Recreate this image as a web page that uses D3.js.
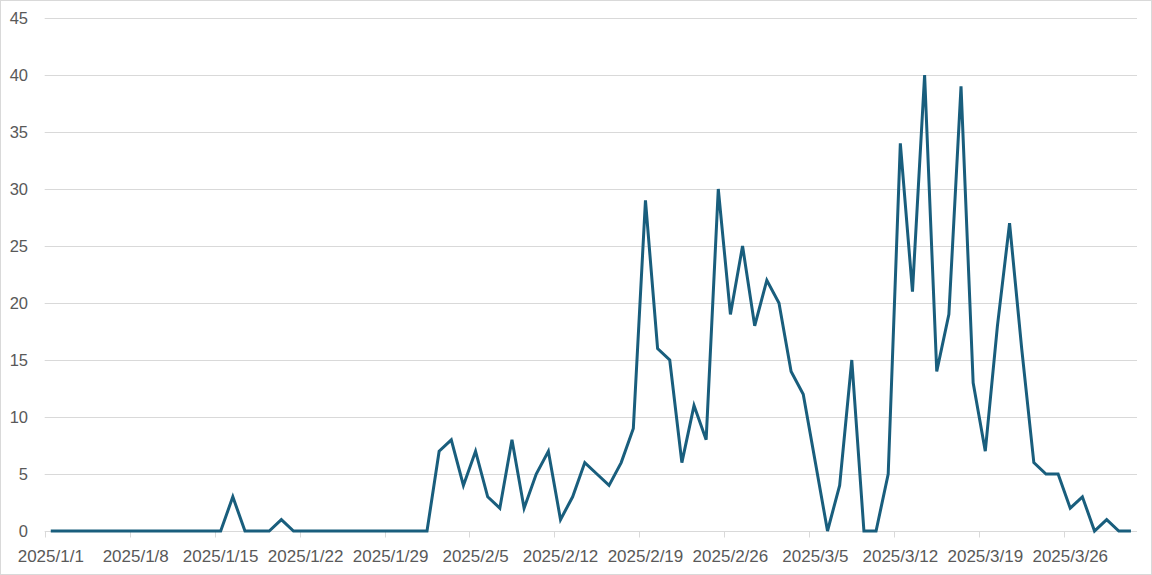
<!DOCTYPE html>
<html lang="en">
<head>
<meta charset="utf-8">
<title>Daily counts</title>
<script src="https://cdn.jsdelivr.net/npm/d3@7"></script>
<style>
  body { margin: 0; background: #fff; }
  text { font-family: "Liberation Sans", Arial, sans-serif; fill: #595959; }
</style>
</head>
<body>
<svg id="chart" width="1152" height="575"></svg>
<script>
// one value per day, 2025/1/1 .. 2025/3/31
var dayCount = 90
var counts = [
  0, 0, 0, 0, 0, 0, 0, 0, 0, 0, 0, 0, 0, 0, 0, 3, 0, 0, 0, 1,
  0, 0, 0, 0, 0, 0, 0, 0, 0, 0, 0, 0, 7, 8, 4, 7, 3, 2, 8, 2,
  5, 7, 1, 3, 6, 5, 4, 6, 9, 29, 16, 15, 6, 11, 8, 30, 19, 25, 18, 22,
  20, 14, 12, 6, 0, 4, 15, 0, 0, 5, 34, 21, 40, 14, 19, 39, 13, 7, 18, 27,
  16, 6, 5, 5, 2, 3, 0, 1, 0, 0
]
var yTicks = [0, 5, 10, 15, 20, 25, 30, 35, 40, 45]
var tickEvery = 7

var fmt = d3.timeFormat("%Y/%-m/%-d")
var days = d3.range(dayCount).map(i => d3.timeDay.offset(new Date(2025, 0, 1), i))
var data = days.map((d, i) => ({date: d, key: fmt(d), value: counts[i]}))

var svg = d3.select("#chart"),
    margin = {top: 18, left: 44.7, bottom: 44, right: 15},
    width = +svg.attr("width"),
    height = +svg.attr("height");

// outer frame
svg.append("rect")
  .attr("x", 0.5).attr("y", 0.5)
  .attr("width", width - 1).attr("height", height - 1)
  .attr("fill", "#fff").attr("stroke", "#d9d9d9")

var x = d3.scaleBand()
  .domain(data.map(d => d.key))
  .range([margin.left, width - margin.right])
  .paddingInner(0).paddingOuter(0)

var y = d3.scaleLinear()
  .domain([0, 45])
  .range([height - margin.bottom, margin.top])

// gridlines
svg.append("g")
  .selectAll("line")
  .data(yTicks.filter(v => v > 0))
  .enter().append("line")
    .attr("x1", margin.left).attr("x2", width - margin.right)
    .attr("y1", d => Math.round(y(d)) + 0.5).attr("y2", d => Math.round(y(d)) + 0.5)
    .attr("stroke", "#d9d9d9").attr("stroke-width", 1)

// y labels
svg.append("g")
  .selectAll("text")
  .data(yTicks)
  .enter().append("text")
    .attr("x", 28)
    .attr("y", d => y(d))
    .attr("dy", "0.36em")
    .attr("text-anchor", "end")
    .attr("font-size", "16.5px")
    .text(d => d)

// x axis: ticks at band edges, labels centred on the day
var tickKeys = data.filter((d, i) => i % tickEvery == 0).map(d => d.key)
var xAxis = svg.append("g")
  .attr("transform", `translate(0,${Math.round(y(0)) + 0.5})`)

xAxis.append("line")
  .attr("x1", margin.left).attr("x2", width - margin.right)
  .attr("stroke", "#d9d9d9")

xAxis.selectAll("line.tick")
  .data(tickKeys)
  .enter().append("line")
    .attr("class", "tick")
    .attr("x1", d => Math.round(x(d)) + 0.5).attr("x2", d => Math.round(x(d)) + 0.5)
    .attr("y1", 0).attr("y2", 6)
    .attr("stroke", "#d9d9d9")

xAxis.selectAll("text")
  .data(tickKeys)
  .enter().append("text")
    .attr("x", d => x(d) + x.bandwidth() / 2)
    .attr("y", 30)
    .attr("text-anchor", "middle")
    .attr("font-size", "17px")
    .text(d => d)

var line = d3.line()
  .x(d => x(d.key) + x.bandwidth() / 2)
  .y(d => y(d.value))

svg.append("path")
  .datum(data)
  .attr("fill", "none")
  .attr("stroke", "#195e7d")
  .attr("stroke-width", 3)
  .attr("stroke-linejoin", "miter")
  .attr("d", line)
</script>
</body>
</html>
